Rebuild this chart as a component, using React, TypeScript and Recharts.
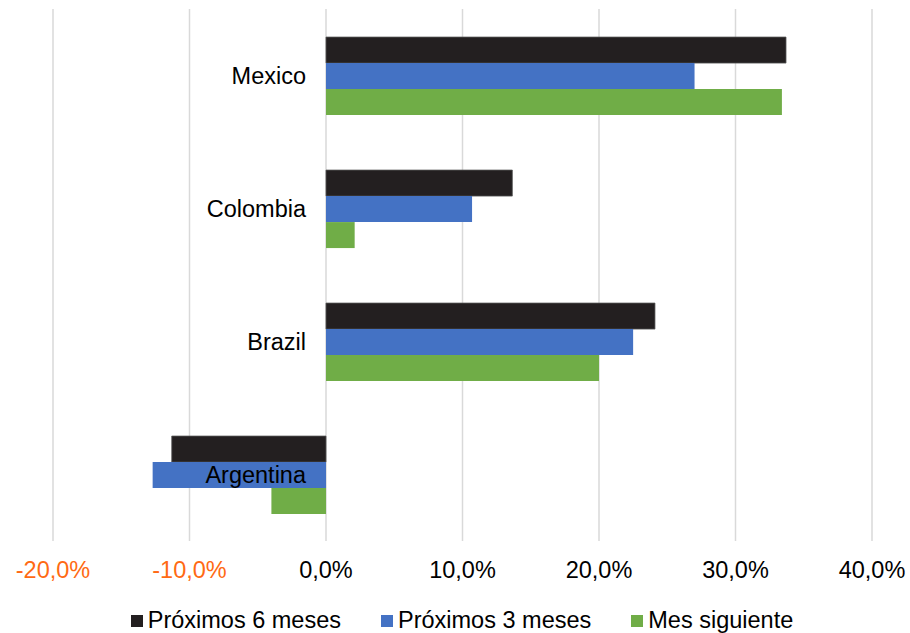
import React from 'react';
import {
  BarChart, Bar, XAxis, YAxis, CartesianGrid, Legend,
} from 'recharts';

const countries: string[] = ['Mexico', 'Colombia', 'Brazil', 'Argentina'];
const next6: number[] = [33.7, 13.65, 24.1, -11.3];
const next3: number[] = [27.0, 10.7, 22.5, -12.7];
const nextMonth: number[] = [33.4, 2.1, 20.0, -4.0];
const xTicks: number[] = [-20, -10, 0, 10, 20, 30, 40];

const seriesNames = ['Próximos 6 meses', 'Próximos 3 meses', 'Mes siguiente'];
const seriesColors = ['#231f20', '#4472c4', '#70ad47'];

const data = countries.map((name, i) => ({
  name,
  s6: next6[i],
  s3: next3[i],
  s1: nextMonth[i],
}));

const W = 910;
const H = 633;
const margin = { top: 9, right: 38, bottom: 0, left: 52 };
const Y_W = 1;
const FONT = '"Liberation Sans", Arial, sans-serif';
const FS = 23.5;

// x position of the 0 line, used to park the category labels next to it
const plotL = margin.left + Y_W;
const plotW = W - plotL - margin.right;
const zeroX = plotL + ((0 - xTicks[0]) / (xTicks[xTicks.length - 1] - xTicks[0])) * plotW;

const fmt = (v: number): string => `${v.toFixed(1).replace('.', ',')}%`;

const XTick = (props: any) => {
  const { x, y, payload } = props;
  const v = payload.value as number;
  return (
    <text x={x} y={y} dy="0.71em" textAnchor="middle" fontFamily={FONT} fontSize={FS}
      fill={v < 0 ? '#ff6a13' : '#000'}>
      {fmt(v)}
    </text>
  );
};

const CatTick = (props: any) => {
  const { y, payload } = props;
  return (
    <text x={zeroX - 20} y={y} dy="0.35em" textAnchor="end" fontFamily={FONT} fontSize={FS} fill="#000">
      {payload.value}
    </text>
  );
};

const LegendBox = () => (
  <div style={{
    height: 40, display: 'flex', justifyContent: 'center', alignItems: 'flex-start',
    paddingTop: 14, boxSizing: 'border-box', fontFamily: FONT, fontSize: FS, color: '#000',
  }}>
    {seriesNames.map((n, i) => (
      <div key={n} style={{ display: 'flex', alignItems: 'center', marginRight: i < 2 ? 40 : 0 }}>
        <span style={{ width: 12, height: 12, background: seriesColors[i], marginRight: 5, display: 'inline-block' }} />
        <span>{n}</span>
      </div>
    ))}
  </div>
);

export default function App() {
  return (
    <div style={{ position: 'absolute', left: 0, top: 0 }}>
      <BarChart
        width={W}
        height={H}
        data={data}
        layout="vertical"
        margin={margin}
        barCategoryGap="21.1%"
        barGap={0}
      >
        <CartesianGrid horizontal={false} stroke="#d9d9d9" strokeWidth={1.5} />
        <XAxis
          type="number"
          domain={[-20, 40]}
          ticks={xTicks}
          interval={0}
          axisLine={false}
          tickLine={false}
          tickSize={0}
          tickMargin={20}
          height={52}
          tick={<XTick />}
        />
        <Legend verticalAlign="bottom" content={<LegendBox />} />
        <Bar dataKey="s6" name={seriesNames[0]} fill={seriesColors[0]} stroke="#555" strokeWidth={0.8} isAnimationActive={false} />
        <Bar dataKey="s3" name={seriesNames[1]} fill={seriesColors[1]} isAnimationActive={false} />
        <Bar dataKey="s1" name={seriesNames[2]} fill={seriesColors[2]} isAnimationActive={false} />
        <YAxis
          type="category"
          dataKey="name"
          width={Y_W}
          interval={0}
          axisLine={false}
          tickLine={false}
          tick={<CatTick />}
        />
      </BarChart>
    </div>
  );
}
